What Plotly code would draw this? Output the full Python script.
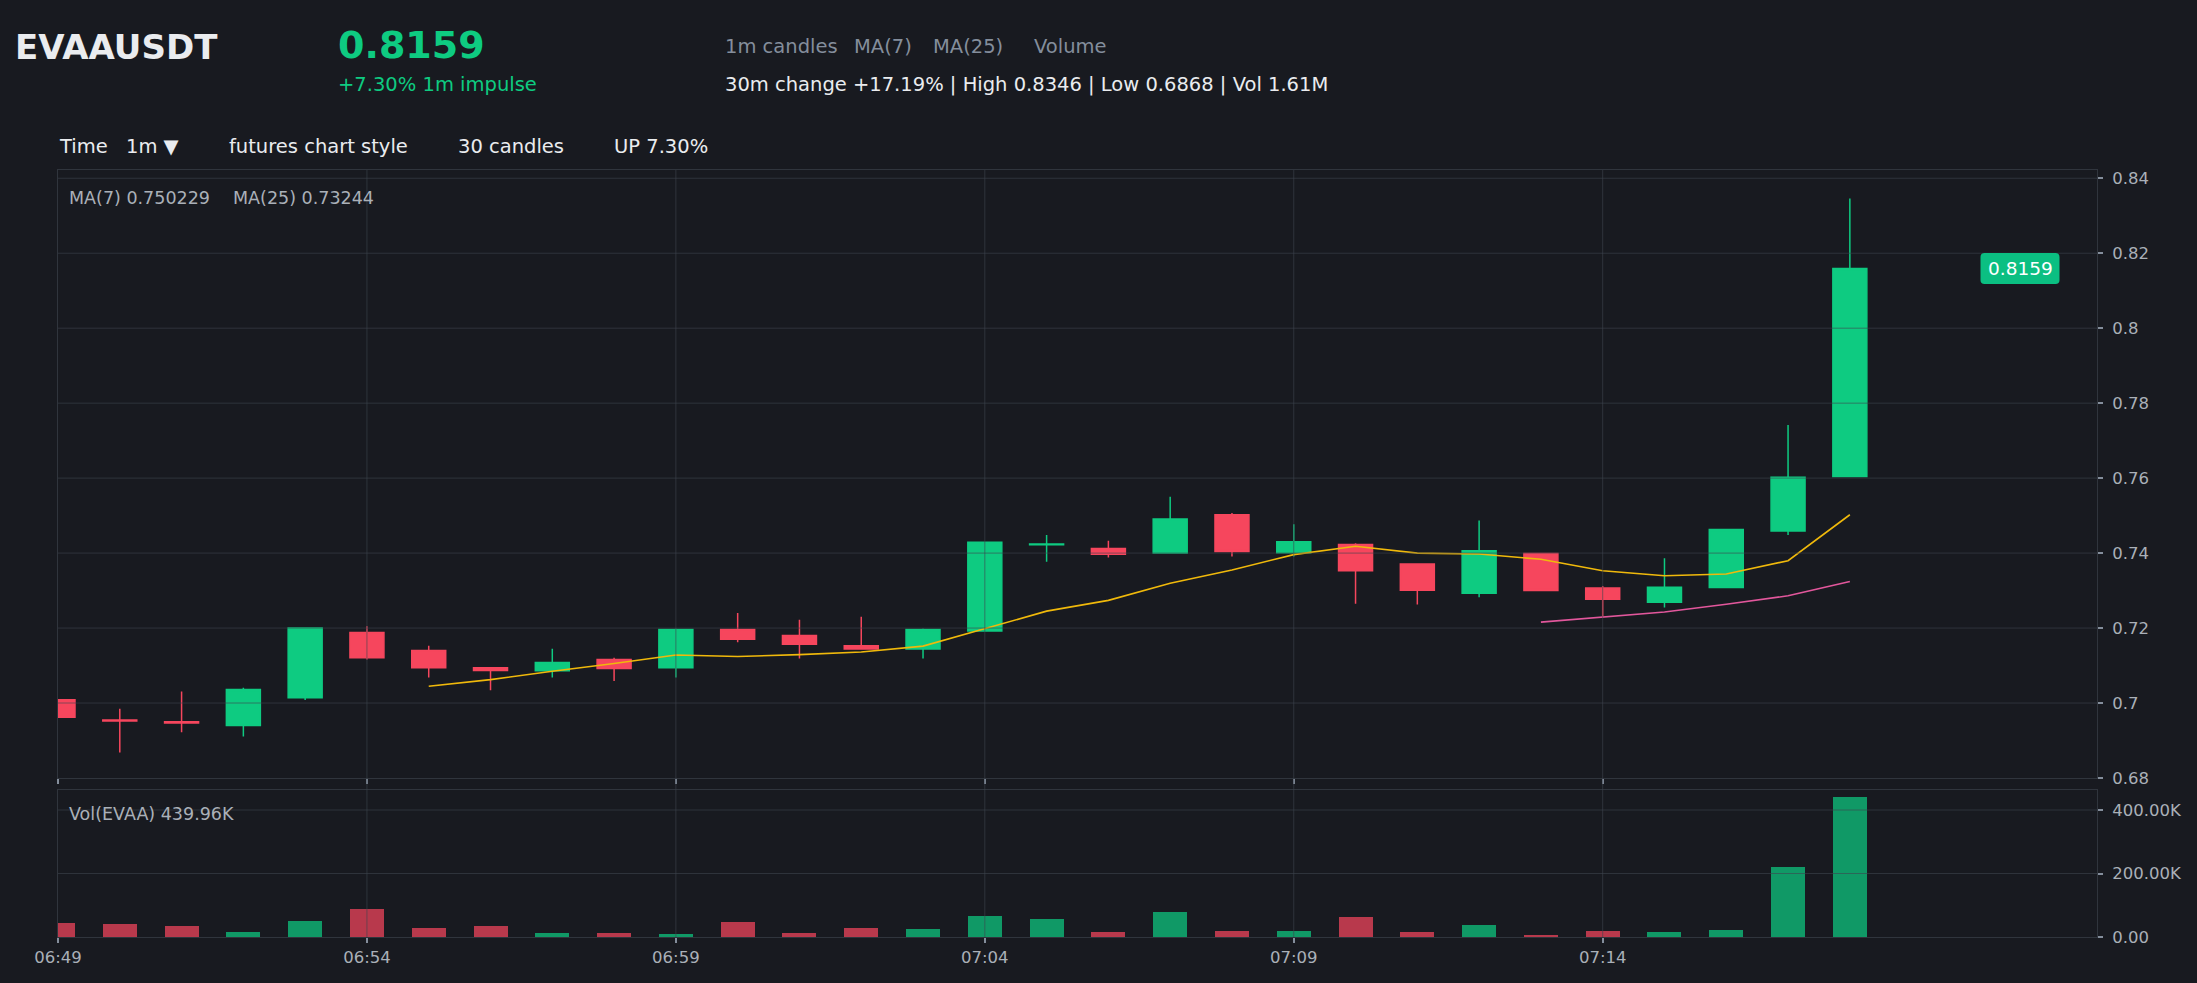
import pandas as pd
import plotly.graph_objects as go

# ---------------- data ----------------
symbol = "EVAAUSDT"
start_time = "2024-01-01 06:49"
opens = [0.7009, 0.6955, 0.6950, 0.6940, 0.7014, 0.7188, 0.7140, 0.7094, 0.7086, 0.7116,
         0.7094, 0.7196, 0.7180, 0.7153, 0.7144, 0.7192, 0.7422, 0.7412, 0.7400, 0.7502,
         0.7401, 0.7423, 0.7371, 0.7293, 0.7399, 0.7307, 0.7269, 0.7308, 0.7459, 0.7604]
highs = [0.7010, 0.6985, 0.7031, 0.7041, 0.7202, 0.7205, 0.7153, 0.7096, 0.7145, 0.7121,
         0.7199, 0.7240, 0.7222, 0.7230, 0.7199, 0.7431, 0.7448, 0.7433, 0.7550, 0.7507,
         0.7477, 0.7426, 0.7372, 0.7487, 0.7400, 0.7312, 0.7386, 0.7465, 0.7742, 0.8346]
lows = [0.6961, 0.6868, 0.6922, 0.6911, 0.7008, 0.7116, 0.7068, 0.7034, 0.7068, 0.7059,
        0.7068, 0.7162, 0.7119, 0.7143, 0.7119, 0.7190, 0.7377, 0.7388, 0.7400, 0.7391,
        0.7391, 0.7265, 0.7263, 0.7282, 0.7300, 0.7228, 0.7255, 0.7307, 0.7448, 0.7604]
closes = [0.6962, 0.6952, 0.6947, 0.7036, 0.7200, 0.7121, 0.7094, 0.7087, 0.7108, 0.7092,
          0.7196, 0.7170, 0.7157, 0.7144, 0.7196, 0.7429, 0.7424, 0.7397, 0.7491, 0.7404,
          0.7430, 0.7353, 0.7301, 0.7406, 0.7300, 0.7277, 0.7309, 0.7463, 0.7602, 0.8159]
volumes = [45000, 41000, 35000, 16000, 50000, 88000, 28000, 35000, 13000, 13000,
           9000, 47000, 13000, 28000, 25000, 66000, 57000, 16000, 79000, 19000,
           19000, 63000, 16000, 38000, 6000, 19000, 16000, 22000, 220000, 439960]
price_ticks = [0.68, 0.70, 0.72, 0.74, 0.76, 0.78, 0.80, 0.82, 0.84]
vol_tickvals = [0, 200000, 400000]
vol_ticktext = ["0.00", "200.00K", "400.00K"]
time_ticks = ["2024-01-01 06:49", "2024-01-01 06:54", "2024-01-01 06:59",
              "2024-01-01 07:04", "2024-01-01 07:09", "2024-01-01 07:14"]

times = pd.date_range(start_time, periods=len(closes), freq="1min")
close_s = pd.Series(closes, index=times)
ma7 = close_s.rolling(7).mean()
ma25 = close_s.rolling(25).mean()

# ---------------- styling ----------------
W, H = 2197, 983
ML, MR, MT, MB = 58, 100, 170, 46
PW, PH = W - ML - MR, H - MT - MB
BG = "#181a20"
GREEN = "#0ecb81"
RED = "#f6465d"
FRAME = "#30353d"
GRID = "rgba(62,68,78,0.6)"
TXT = "#eaecef"
GRAY = "#848e9c"
LGRAY = "#aab0b8"
FONT = "DejaVu Sans"


def P(px, py):
    return (px - ML) / PW, (H - MB - py) / PH


price_bottom_px, vol_top_px = 778, 790
price_domain = [(H - MB - price_bottom_px) / PH, 1]
vol_domain = [0, (H - MB - vol_top_px) / PH]

fig = go.Figure()

fig.add_trace(go.Candlestick(
    x=times, open=opens, high=highs, low=lows, close=closes,
    increasing=dict(line=dict(color=GREEN, width=1.5), fillcolor=GREEN),
    decreasing=dict(line=dict(color=RED, width=1.5), fillcolor=RED),
    whiskerwidth=0, showlegend=False, hoverinfo="skip",
    xaxis="x", yaxis="y"))

fig.add_trace(go.Scatter(x=times, y=ma7, mode="lines",
                         line=dict(color="#f0b90b", width=1.6),
                         showlegend=False, hoverinfo="skip", xaxis="x", yaxis="y"))
fig.add_trace(go.Scatter(x=times, y=ma25, mode="lines",
                         line=dict(color="#e2579c", width=1.6),
                         showlegend=False, hoverinfo="skip", xaxis="x", yaxis="y"))

vol_colors = [GREEN if c >= o else RED for o, c in zip(opens, closes)]
fig.add_trace(go.Bar(x=times, y=volumes, marker=dict(color=vol_colors, line=dict(width=0)),
                     opacity=0.72, width=33000, showlegend=False, hoverinfo="skip",
                     xaxis="x2", yaxis="y2"))

xrange = ["2024-01-01 06:49", "2024-01-01 07:22"]
axis_common = dict(showline=True, mirror=True, linecolor=FRAME, linewidth=1,
                   zeroline=False, showgrid=False)

fig.update_layout(
    width=W, height=H,
    margin=dict(l=ML, r=MR, t=MT, b=MB, pad=0),
    paper_bgcolor=BG, plot_bgcolor=BG,
    font=dict(family=FONT, color=LGRAY, size=16.5),
    boxgap=0.45, boxgroupgap=0,
    bargap=0,
    xaxis=dict(domain=[0, 1], anchor="y", range=xrange, type="date",
               rangeslider=dict(visible=False), showticklabels=False,
               ticks="outside", ticklen=5, tickcolor=GRAY, tickwidth=1.5,
               tickvals=time_ticks, matches="x2", **axis_common),
    xaxis2=dict(domain=[0, 1], anchor="y2", range=xrange, type="date",
                ticks="outside", ticklen=5, tickcolor=GRAY, tickwidth=1.5,
                tickvals=time_ticks, tickformat="%H:%M",
                tickfont=dict(size=16.5, color=LGRAY), **axis_common),
    yaxis=dict(domain=price_domain, anchor="x", side="right", range=[0.68, 0.8422],
               tickvals=price_ticks, ticks="outside", ticklen=5, tickcolor=GRAY,
               tickwidth=1.5, tickfont=dict(size=16.5, color=LGRAY),
               ticklabelstandoff=6, **axis_common),
    yaxis2=dict(domain=vol_domain, anchor="x2", side="right", range=[0, 463000],
                tickvals=vol_tickvals, ticktext=vol_ticktext, ticks="outside",
                ticklen=5, tickcolor=GRAY, tickwidth=1.5,
                tickfont=dict(size=16.5, color=LGRAY), ticklabelstandoff=6,
                **axis_common),
)

shapes = []
for v in price_ticks[1:]:
    shapes.append(dict(type="line", xref="x domain", yref="y", x0=0, x1=1, y0=v, y1=v,
                       line=dict(color=GRID, width=1), layer="above"))
for v in vol_tickvals[1:]:
    shapes.append(dict(type="line", xref="x2 domain", yref="y2", x0=0, x1=1, y0=v, y1=v,
                       line=dict(color=GRID, width=1), layer="above"))
for t in time_ticks[1:]:
    shapes.append(dict(type="line", xref="x", yref="paper", x0=t, x1=t, y0=0, y1=1,
                       line=dict(color=GRID, width=1), layer="above"))

# last price badge
badge_x = P(2020, 0)[0]
r, bw, bh = 4, 39.5, 15.5
badge_path = (f"M {-bw + r},{-bh} L {bw - r},{-bh} Q {bw},{-bh} {bw},{-bh + r} "
              f"L {bw},{bh - r} Q {bw},{bh} {bw - r},{bh} L {-bw + r},{bh} "
              f"Q {-bw},{bh} {-bw},{bh - r} L {-bw},{-bh + r} Q {-bw},{-bh} {-bw + r},{-bh} Z")
shapes.append(dict(type="path", xref="paper", yref="y", xsizemode="pixel",
                   ysizemode="pixel", xanchor=badge_x, yanchor=closes[-1],
                   path=badge_path, fillcolor="#0bbf82", line=dict(width=0),
                   layer="above"))
fig.update_layout(shapes=shapes)

annotations = []


def add_text(text, px, py, size, color, xanchor="left", bold=False):
    x, y = P(px, py)
    annotations.append(dict(text=f"<b>{text}</b>" if bold else text, x=x, y=y,
                            xref="paper", yref="paper", xanchor=xanchor,
                            yanchor="middle", showarrow=False,
                            font=dict(family=FONT, size=size, color=color)))


add_text(symbol, 13, 47, 34, TXT, bold=True)
add_text(f"{closes[-1]:.4f}", 336, 45, 38, GREEN, bold=True)
add_text("+7.30% 1m impulse", 336, 84, 19.5, GREEN)
add_text("1m candles", 723, 47, 19.5, GRAY)
add_text("MA(7)", 852, 47, 19.5, GRAY)
add_text("MA(25)", 931, 47, 19.5, GRAY)
add_text("Volume", 1032, 47, 19.5, GRAY)
add_text("30m change +17.19% | High 0.8346 | Low 0.6868 | Vol 1.61M", 723, 85, 19.5, TXT)
add_text("Time", 57, 146, 19.5, TXT)
add_text("1m ▼", 124, 146, 19.5, TXT)
add_text("futures chart style", 227, 146, 19.5, TXT)
add_text("30 candles", 456, 146, 19.5, TXT)
add_text("UP 7.30%", 612, 146, 19.5, TXT)
add_text("MA(7) 0.750229", 67, 198, 17.5, LGRAY)
add_text("MA(25) 0.73244", 231, 198, 17.5, LGRAY)
add_text("Vol(EVAA) 439.96K", 67, 814, 17.5, LGRAY)

annotations.append(dict(text=f"{closes[-1]:.4f}", x=badge_x, y=closes[-1], xref="paper",
                        yref="y", xanchor="center", yanchor="middle", showarrow=False,
                        font=dict(family=FONT, size=18.5, color="#ffffff")))
fig.update_layout(annotations=annotations)

fig.write_html("out.html")
